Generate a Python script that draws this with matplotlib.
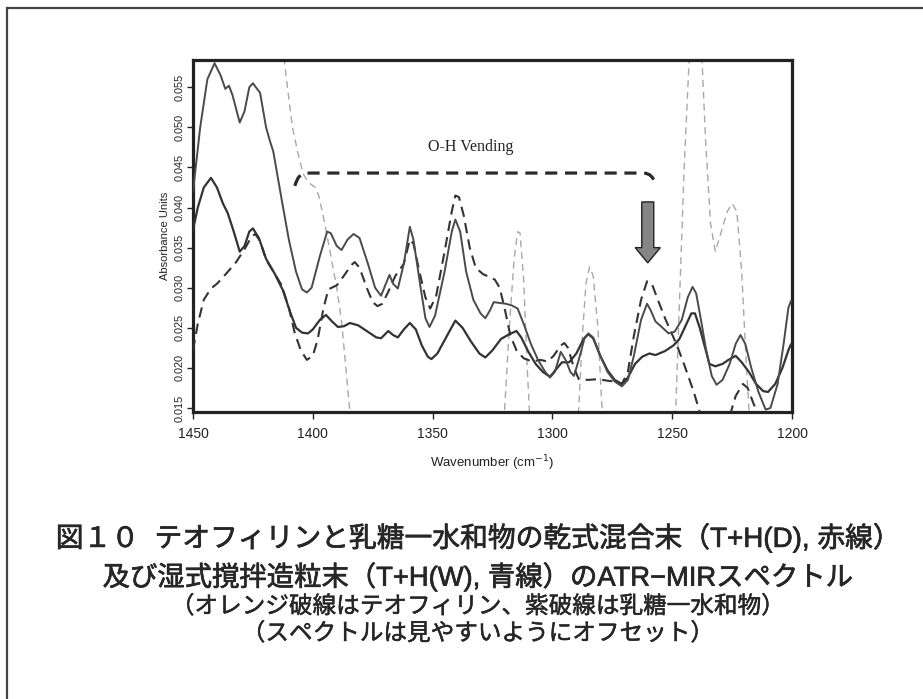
import matplotlib
matplotlib.use("Agg")
import matplotlib.pyplot as plt
import matplotlib.patheffects as pe
from matplotlib.path import Path
from matplotlib.patches import PathPatch, FancyArrow
from matplotlib.lines import Line2D

# ---------------- spectra (wavenumber in cm-1, absorbance) ----------------
dry_wn = [1450, 1447, 1444, 1441, 1438.5, 1436.5, 1435, 1433.5, 1430.5, 1428.5, 1426.5, 1425,
          1422, 1419.5, 1418, 1416.5, 1413, 1410, 1407, 1404.5, 1402.5, 1400.5, 1397, 1394,
          1392.5, 1390, 1388, 1385.5, 1383, 1380.5, 1377, 1374, 1371.5, 1369.5, 1368, 1366.5,
          1364.5, 1362, 1359.5, 1358, 1355, 1353, 1351.3, 1349, 1345, 1342, 1340.5, 1338.5,
          1336, 1333, 1330, 1328, 1326, 1324.5, 1322, 1319.5, 1317, 1314.5, 1312, 1309, 1306,
          1303, 1301, 1299, 1296.5, 1294.5, 1292.5, 1291, 1289, 1286.5, 1285, 1283, 1280, 1277,
          1274, 1271, 1268.5, 1266, 1263, 1260.5, 1259, 1257, 1254, 1251.5, 1249, 1246, 1243.5,
          1241.5, 1240, 1238, 1236, 1233.5, 1231.5, 1229, 1226, 1223.5, 1221.5, 1219.5, 1217,
          1214, 1211, 1209, 1206, 1203.5, 1201.5, 1200.5]
dry_abs = [0.0420, 0.0500, 0.0560, 0.0580, 0.0565, 0.0548, 0.0552, 0.0540, 0.0506, 0.0520, 0.0550, 0.0555,
           0.0543, 0.0500, 0.0484, 0.0470, 0.0410, 0.0360, 0.0320, 0.0298, 0.0294, 0.0300, 0.0340, 0.0370,
           0.0368, 0.0352, 0.0347, 0.0360, 0.0367, 0.0362, 0.0330, 0.0300, 0.0290, 0.0305, 0.0316, 0.0305,
           0.0299, 0.0330, 0.0376, 0.0360, 0.0300, 0.0262, 0.0251, 0.0265, 0.0320, 0.0370, 0.0385, 0.0370,
           0.0320, 0.0285, 0.0268, 0.0262, 0.0272, 0.0282, 0.0281, 0.0280, 0.0278, 0.0274, 0.0255, 0.0230, 0.0210,
           0.0195, 0.0188, 0.0195, 0.0220, 0.0210, 0.0195, 0.0190, 0.0210, 0.0238, 0.0243, 0.0238, 0.0215, 0.0195,
           0.0183, 0.0177, 0.0185, 0.0215, 0.0260, 0.0280, 0.0272, 0.0258, 0.0250, 0.0243, 0.0245, 0.0260, 0.0288,
           0.0301, 0.0293, 0.0260, 0.0225, 0.0190, 0.0179, 0.0185, 0.0205, 0.0230, 0.0241, 0.0230, 0.0200,
           0.0170, 0.0148, 0.0150, 0.0180, 0.0230, 0.0275, 0.0283]

wet_wn = [1450, 1448, 1445.5, 1442.5, 1440, 1437.5, 1435.5, 1433, 1430.5, 1428.5, 1426.5, 1425,
          1422.5, 1419.5, 1416, 1412.5, 1409.5, 1407, 1404.5, 1402, 1400, 1397, 1394.5, 1392,
          1389.5, 1387, 1384.5, 1381, 1377, 1373.5, 1371.5, 1368.5, 1366.5, 1364.5, 1362, 1359.5,
          1357, 1354.5, 1352, 1350.5, 1348, 1344, 1340.5, 1337.5, 1334, 1330.5, 1328, 1325, 1321.5,
          1318, 1315, 1313, 1310, 1307, 1304, 1301, 1298.5, 1296, 1293, 1290, 1287, 1285, 1283, 1280,
          1277, 1274, 1271, 1268.5, 1265.5, 1262.5, 1259.5, 1257, 1253, 1249.5, 1247, 1244.5, 1242,
          1240.5, 1238.5, 1236, 1234.5, 1232, 1229, 1226.5, 1223.5, 1221, 1218, 1215, 1212, 1210,
          1207, 1204, 1201.5, 1200.5]
wet_abs = [0.0372, 0.0400, 0.0425, 0.0437, 0.0425, 0.0405, 0.0393, 0.0370, 0.0345, 0.0352, 0.0370, 0.0374,
           0.0362, 0.0336, 0.0318, 0.0297, 0.0270, 0.0250, 0.0244, 0.0243, 0.0248, 0.0260, 0.0266, 0.0258,
           0.0251, 0.0252, 0.0256, 0.0253, 0.0245, 0.0238, 0.0237, 0.0246, 0.0241, 0.0238, 0.0248, 0.0256,
           0.0248, 0.0228, 0.0214, 0.0211, 0.0218, 0.0240, 0.0259, 0.0250, 0.0233, 0.0218, 0.0213, 0.0222, 0.0236,
           0.0242, 0.0246, 0.0238, 0.0220, 0.0205, 0.0195, 0.0189, 0.0198, 0.0207, 0.0207, 0.0218, 0.0236, 0.0242,
           0.0237, 0.0215, 0.0197, 0.0185, 0.0180, 0.0188, 0.0205, 0.0214, 0.0218, 0.0216, 0.0221, 0.0228, 0.0236,
           0.0252, 0.0268, 0.0268, 0.0250, 0.0222, 0.0205, 0.0202, 0.0205, 0.0210, 0.0215, 0.0207, 0.0195,
           0.0180, 0.0171, 0.0170, 0.0180, 0.0200, 0.0222, 0.0229]

lactose_wn = [1450, 1448, 1445.5, 1442.5, 1440, 1436, 1432, 1428.5, 1425.5, 1424, 1422, 1419.5, 1416,
              1413, 1410, 1407.5, 1405, 1402.5, 1400, 1398, 1395.5, 1393.5, 1390, 1387, 1384, 1382.5,
              1380.5, 1377.5, 1375, 1373, 1371, 1368.5, 1365.5, 1362, 1359.5, 1358, 1355.5, 1353, 1351,
              1348.5, 1345, 1342, 1340.5, 1339, 1337, 1334.5, 1332, 1329, 1326, 1324, 1322, 1320, 1317.5,
              1315, 1312, 1308.5, 1305, 1302, 1299.5, 1296.5, 1295, 1293.5, 1291, 1289, 1285, 1281, 1277,
              1274, 1271, 1268.5, 1266, 1263, 1260.5, 1258.5, 1256, 1253, 1250.5, 1248, 1244.5, 1241,
              1238, 1234, 1229, 1226, 1223.5, 1220.5, 1218.5, 1216, 1213.5, 1210]
lactose_abs = [0.0222, 0.0255, 0.0285, 0.0299, 0.0305, 0.0318, 0.0332, 0.0348, 0.0364, 0.0367, 0.0358,
               0.0335, 0.0318, 0.0303, 0.0275, 0.0243, 0.0222, 0.0210, 0.0215, 0.0235, 0.0275, 0.0298,
               0.0303, 0.0315, 0.0328, 0.0332, 0.0325, 0.0300, 0.0282, 0.0277, 0.0280, 0.0295, 0.0315,
               0.0330, 0.0360, 0.0355, 0.0320, 0.0288, 0.0274, 0.0290, 0.0345, 0.0395, 0.0415, 0.0413,
               0.0390, 0.0350, 0.0325, 0.0317, 0.0313, 0.0310, 0.0300, 0.0275, 0.0240, 0.0222, 0.0212,
               0.0208, 0.0210, 0.0208, 0.0215, 0.0228, 0.0231, 0.0225, 0.0200, 0.0186, 0.0185, 0.0186,
               0.0184, 0.0183, 0.0180, 0.0195, 0.0240, 0.0285, 0.0308, 0.0305, 0.0285, 0.0262, 0.0245,
               0.0228, 0.0200, 0.0170, 0.0140, 0.0110, 0.0115, 0.0140, 0.0165, 0.0180, 0.0175, 0.0155,
               0.0138, 0.0125]

theo_wn = [1420, 1414, 1411, 1408.5, 1406, 1404, 1402, 1399, 1397.5, 1395, 1392.5, 1390, 1388,
           1386.5, 1385, 1383, 1378, 1330, 1322, 1320, 1318, 1316, 1314.5, 1313.5, 1312, 1310.5,
           1309.5, 1307, 1294, 1290, 1289, 1287.5, 1286, 1284.5, 1283, 1281, 1279.5, 1278, 1255,
           1250, 1248.5, 1247, 1245, 1243, 1240, 1237.5, 1236, 1234, 1232, 1230, 1227, 1225, 1223,
           1221, 1219, 1218, 1216, 1200]
theo_abs = [0.0750, 0.0640, 0.0560, 0.0500, 0.0465, 0.0442, 0.0432, 0.0425, 0.0415, 0.0380, 0.0340,
            0.0300, 0.0258, 0.0210, 0.0160, 0.0100, 0.0060, 0.0060, 0.0100, 0.0145, 0.0250, 0.0335,
            0.0370, 0.0368, 0.0310, 0.0200, 0.0140, 0.0080, 0.0080, 0.0120, 0.0150, 0.0240, 0.0305,
            0.0326, 0.0315, 0.0250, 0.0160, 0.0100, 0.0080, 0.0120, 0.0150, 0.0280, 0.0450, 0.0580,
            0.0620, 0.0580, 0.0480, 0.0380, 0.0345, 0.0365, 0.0395, 0.0405, 0.0395, 0.0320, 0.0200,
            0.0150, 0.0080, 0.0080]

x_ticks = [1450, 1400, 1350, 1300, 1250, 1200]
y_ticks = [0.015, 0.020, 0.025, 0.030, 0.035, 0.040, 0.045, 0.050, 0.055]

caption_lines = [
    "図１０  テオフィリンと乳糖一水和物の乾式混合末（T+H(D), 赤線）",
    "及び湿式撹拌造粒末（T+H(W), 青線）のATR−MIRスペクトル",
    "（オレンジ破線はテオフィリン、紫破線は乳糖一水和物）",
    "（スペクトルは見やすいようにオフセット）",
]

# ---------------- figure ----------------
fig = plt.figure(figsize=(9.23, 6.99), dpi=100)
fig.patch.set_facecolor("white")

# page frame (top and left edges)
fig.add_artist(Line2D([8 / 923, 1.0], [1 - 8 / 699, 1 - 8 / 699], transform=fig.transFigure,
                      color="#444444", lw=1.6))
fig.add_artist(Line2D([7 / 923, 7 / 923], [0.0, 1 - 8 / 699], transform=fig.transFigure,
                      color="#444444", lw=1.6))

ax = fig.add_axes([193 / 923, 1 - 412 / 699, 599 / 923, 352 / 699])
ax.set_xlim(1450, 1200)
ax.set_ylim(0.0145, 0.0584)

ax.plot(theo_wn, theo_abs, color="#a8a8a8", lw=1.0, dashes=(5, 3.5), zorder=2)
ax.plot(lactose_wn, lactose_abs, color="#333333", lw=1.5, dashes=(5, 3), zorder=3)
ax.plot(wet_wn, wet_abs, color="#333333", lw=1.6, zorder=4, solid_joinstyle="round")
ax.plot(dry_wn, dry_abs, color="#4a4a4a", lw=1.4, zorder=5, solid_joinstyle="round")

# O-H bending bracket
verts = [(1407.5, 0.0427), (1406, 0.0443), (1403, 0.0443),
         (1262, 0.0443), (1258, 0.0443), (1257, 0.0428)]
codes = [Path.MOVETO, Path.CURVE3, Path.CURVE3, Path.LINETO, Path.CURVE3, Path.CURVE3]
ax.add_patch(PathPatch(Path(verts, codes), fill=False, lw=2.3, edgecolor="#2a2a2a",
                       linestyle=(0, (3.8, 2.4)), capstyle="butt", zorder=6))
ax.text(1334, 0.0476, "O-H Vending", family="Liberation Serif", fontsize=11.5,
        ha="center", va="center", color="#222222")

# arrow pointing at the 1260 cm-1 band
ax.add_patch(FancyArrow(1260.2, 0.0407, 0, -0.0076, width=5.0, head_width=10.5,
                        head_length=0.0019, length_includes_head=True,
                        facecolor="#858585", edgecolor="#222222", lw=1.0, zorder=7))

for s in ax.spines.values():
    s.set_linewidth(2.3)
    s.set_color("#222222")

ax.set_xticks(x_ticks)
ax.set_xticklabels([str(v) for v in x_ticks], family="Liberation Sans", fontsize=10)
ax.set_yticks(y_ticks)
ax.set_yticklabels([f"{v:.3f}" for v in y_ticks], family="Liberation Sans", fontsize=7.8,
                   rotation=90, va="center")
ax.tick_params(axis="x", direction="out", length=5, width=1, pad=6, colors="#222222")
ax.tick_params(axis="y", direction="out", length=4, width=1, pad=2, colors="#222222")
ax.set_xlabel("Wavenumber (cm$^{-1}$)", family="Liberation Sans", fontsize=9.5, labelpad=9,
              color="#222222")
ax.set_ylabel("Absorbance Units", family="Liberation Sans", fontsize=8, labelpad=3,
              color="#222222")

# caption: Latin glyphs from Liberation Sans, kana/kanji from Noto Sans CJK
cjk = ["Liberation Sans", "Noto Sans CJK JP", "DejaVu Sans"]
cap_y = [538, 577, 607, 634]
cap_size = [20, 19.7, 17, 17]
cap_stroke = [0.5, 0.5, 0.35, 0.35]
for line, yp, fs, sw in zip(caption_lines, cap_y, cap_size, cap_stroke):
    fig.text(478 / 923, 1 - yp / 699, line, family=cjk, fontsize=fs,
             ha="center", va="center", color="#262626",
             path_effects=[pe.withStroke(linewidth=sw, foreground="#262626")])

fig.savefig("out.png", dpi=100, facecolor="white")
